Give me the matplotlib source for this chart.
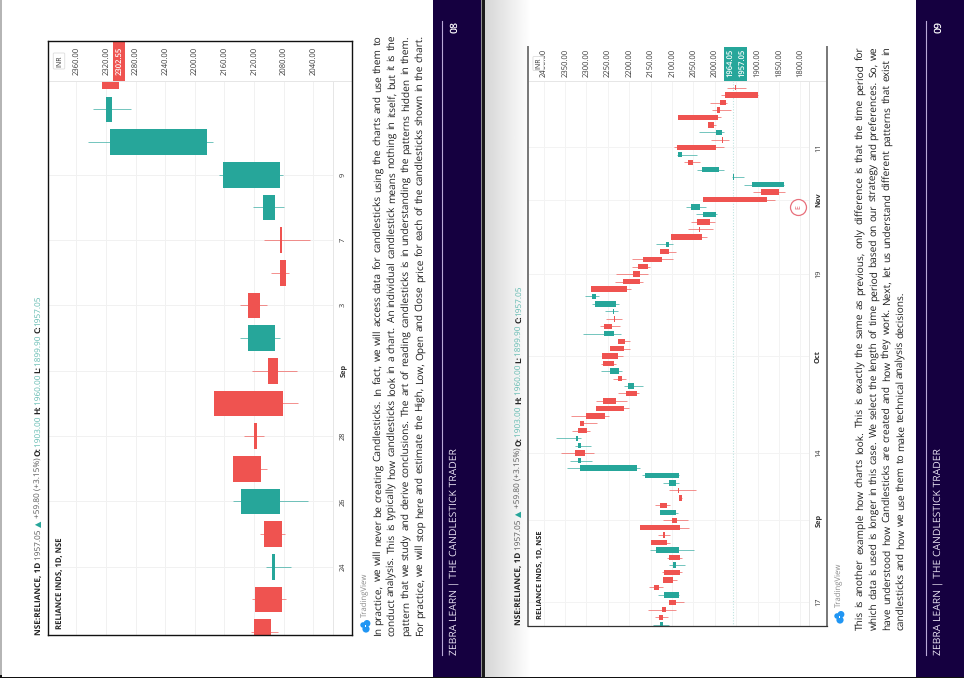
import numpy as np
import matplotlib
matplotlib.use("Agg")
import matplotlib.pyplot as plt
from matplotlib.patches import Circle, Rectangle, FancyBboxPatch
from matplotlib.transforms import blended_transform_factory

plt.rcParams["text.hinting"] = "no_hinting"

W, H = 964, 678
UP, DOWN = "#26A69A", "#EF5350"
NAVY = "#150040"
FONT = ["Open Sans", "DejaVu Sans"]

# Short-window daily candles, newest first
short_open = [2325.0, 2311.6, 2183.2, 2085.0, 2092.2, 2084.5, 2084.5, 2128.7, 2092.2, 2100.8,
              2174.2, 2120.1, 2148.5, 2085.0, 2106.6, 2091.8, 2118.3, 2120.6]
short_high = [2325.0, 2337.7, 2344.0, 2167.9, 2121.5, 2106.2, 2097.2, 2139.0, 2138.6, 2122.4,
              2174.2, 2133.6, 2148.5, 2148.5, 2112.0, 2104.4, 2122.4, 2124.2]
short_low = [2302.0, 2286.3, 2175.1, 2080.5, 2079.6, 2044.9, 2072.4, 2102.6, 2085.0, 2062.5,
             2060.7, 2106.6, 2103.0, 2046.7, 2077.8, 2070.6, 2077.3, 2088.1]
short_close = [2302.55, 2319.7, 2314.3, 2161.6, 2108.0, 2082.7, 2077.3, 2112.0, 2128.7, 2087.7,
               2081.0, 2116.1, 2110.7, 2137.7, 2082.3, 2096.2, 2082.3, 2097.2]
short_price_ticks = [2360, 2320, 2280, 2240, 2200, 2160, 2120, 2080, 2040]
short_time_rows = [3, 5, 7, 9, 11, 13, 15]
short_time_labels = ["9", "7", "3", "Sep", "28", "26", "24"]

# Long-window daily candles, newest first
long_open = [1952.7, 1976.1, 1987.8, 1994.8, 2085.2, 2015.8, 1982.3, 1982.3, 2089.1, 2076.6,
             2062.6, 1990.1, 1955.1, 1837.5, 1891.2, 2027.5, 2033.8, 1997.1, 2042.3, 2036.9,
             2102.3, 2106.2, 2128.0, 2168.5, 2180.2, 2191.1, 2215.3, 2290.0, 2278.4, 2230.8,
             2235.5, 2236.3, 2259.7, 2234.7, 2226.2, 2244.1, 2264.3, 2261.2, 2224.6, 2226.9,
             2188.8, 2207.5, 2261.2, 2277.6, 2300.2, 2315.0, 2320.4, 2319.6, 2312.6, 2325.9,
             2311.9, 2182.5, 2084.4, 2091.4, 2085.2, 2084.4, 2128.8, 2091.4, 2100.7, 2174.8,
             2120.2, 2148.3, 2084.4, 2107.0, 2091.4, 2119.4, 2121.0, 2142.0, 2084.4, 2106.2,
             2122.6, 2129.6, 2121.0]
long_high = [1970.7, 1984.7, 2011.2, 2006.5, 2085.2, 2015.8, 2037.7, 2009.6, 2096.1, 2089.1,
             2072.7, 2041.5, 1959.8, 1930.9, 1909.9, 2027.5, 2066.5, 2043.1, 2055.6, 2061.8,
             2102.3, 2137.4, 2128.0, 2193.5, 2193.5, 2230.1, 2234.0, 2290.0, 2303.3, 2286.9,
             2256.5, 2253.4, 2268.2, 2308.7, 2226.2, 2244.1, 2264.3, 2266.7, 2265.1, 2238.6,
             2212.1, 2226.2, 2277.6, 2277.6, 2336.8, 2315.0, 2333.7, 2371.1, 2326.7, 2359.4,
             2338.3, 2345.4, 2170.1, 2120.2, 2107.0, 2084.4, 2138.9, 2128.8, 2121.0, 2174.8,
             2133.5, 2148.3, 2150.6, 2110.9, 2107.8, 2123.3, 2121.0, 2154.5, 2133.5, 2106.2,
             2156.8, 2139.7, 2145.2]
long_low = [1927.8, 1899.0, 1971.4, 1961.3, 1986.2, 1997.1, 1977.7, 1966.0, 1977.7, 2040.8,
            2035.3, 1979.2, 1932.5, 1837.5, 1835.1, 1860.0, 2021.3, 1994.0, 1998.7, 2004.9,
            2018.2, 2096.9, 2091.4, 2097.6, 2150.6, 2156.1, 2168.5, 2195.8, 2269.8, 2224.6,
            2226.2, 2216.8, 2222.3, 2219.2, 2197.3, 2197.3, 2214.5, 2230.1, 2216.8, 2206.7,
            2167.0, 2176.3, 2205.1, 2201.2, 2247.2, 2276.0, 2292.4, 2311.9, 2288.5, 2282.3,
            2287.7, 2175.5, 2084.4, 2084.4, 2044.7, 2076.6, 2103.9, 2086.7, 2062.6, 2061.0,
            2105.4, 2103.9, 2047.8, 2076.6, 2070.4, 2076.6, 2089.1, 2121.8, 2084.4, 2071.1,
            2091.4, 2110.1, 2106.2]
long_close = [1951.2, 1899.0, 1973.0, 1987.0, 1993.2, 2001.8, 1997.1, 1980.0, 1997.1, 2086.0,
              2050.9, 2029.9, 1958.0, 1913.8, 1850.7, 1878.0, 2055.6, 2027.5, 2011.2, 2033.8,
              2029.1, 2114.0, 2107.0, 2124.1, 2156.1, 2175.5, 2175.5, 2205.9, 2287.7, 2280.7,
              2237.9, 2233.2, 2239.4, 2258.1, 2210.6, 2212.9, 2226.2, 2234.7, 2244.9, 2216.8,
              2202.0, 2181.0, 2230.8, 2211.4, 2256.5, 2305.6, 2298.6, 2324.3, 2319.6, 2302.5,
              2320.4, 2315.0, 2163.1, 2107.8, 2082.8, 2076.6, 2111.7, 2128.8, 2088.3, 2080.5,
              2117.1, 2110.9, 2138.1, 2081.3, 2096.9, 2081.3, 2096.9, 2131.1, 2118.7, 2091.4,
              2114.8, 2121.8, 2128.0]
long_price_ticks = [2400, 2350, 2300, 2250, 2200, 2150, 2100, 2050, 2000, 1950, 1900, 1850, 1800]
long_hidden_tick = 1950
long_time_rows = [8, 15, 25, 36, 49, 58, 69]
long_time_labels = ["11", "Nov", "19", "Oct", "14", "Sep", "17"]
long_last_price = 1957.05
long_prev_price = 1964.05
earnings_row = 16
earnings_price = 1805

left_lines = [
    "In practice, we will never be creating Candlesticks. In fact, we will access data for candlesticks using the charts and use them to",
    "conduct analysis. This is typically how candlesticks look in a chart. An individual candlestick means nothing in itself, but it is the",
    "pattern that we study and derive conclusions. The art of reading candlesticks is in understanding the patterns hidden in them.",
    "For practice, we will stop here and estimate the High, Low, Open and Close price for each of the candlesticks shown in the chart.",
]
right_lines = [
    "This is another example how charts look. This is exactly the same as previous, only difference is that the time period for",
    "which data is used is longer in this case. We select the length of time period based on our strategy and preferences. So, we",
    "have understood how Candlesticks are created and how they work. Next, let us understand different patterns that exist in",
    "candlesticks and how we use them to make technical analysis decisions.",
]
footer_title = "ZEBRA LEARN | THE CANDLESTICK TRADER"


def header_parts():
    dark, grey, teal = "#222222", "#555555", "#5DB8AE"
    return [("NSE:RELIANCE, 1D ", "bold", dark), ("1957.05 ", "normal", grey),
            ("▲ ", "normal", UP), ("+59.80 (+3.15%) ", "normal", grey),
            ("O:", "bold", dark), ("1903.00 ", "normal", teal),
            ("H:", "bold", dark), ("1960.00 ", "normal", teal),
            ("L:", "bold", dark), ("1899.90 ", "normal", teal),
            ("C:", "bold", dark), ("1957.05", "normal", teal)]


fig = plt.figure(figsize=(W / 100, H / 100), dpi=100)
fig.patch.set_facecolor("white")


def full_axes(z):
    a = fig.add_axes([0, 0, 1, 1], zorder=z)
    a.set_xlim(0, W)
    a.set_ylim(H, 0)
    a.axis("off")
    a.patch.set_alpha(0)
    return a


page = full_axes(0)
top = full_axes(5)
renderer = fig.canvas.get_renderer()


def width_of(s, **kw):
    t = top.text(0, 0, s, family=FONT, **kw)
    w = t.get_window_extent(renderer).width
    t.remove()
    return w


def settle_size(measure, target, start=7.0):
    """Font size whose measured length comes to the target; widths are not quite linear in size."""
    size = start
    for _ in range(4):
        size *= target / measure(size)
    return size


def up_text(x, y, s, **kw):
    """Text reading bottom to top, starting at pixel (x, y)."""
    return top.text(x, y, s, rotation=90, rotation_mode="anchor", ha="left",
                    va="center", family=FONT, **kw)


def fitted(x, y0, y1, s, color, weight="normal"):
    size = settle_size(lambda z: width_of(s, fontsize=z, fontweight=weight), y0 - y1)
    up_text(x, y0, s, fontsize=size, color=color, fontweight=weight)


def paragraph(lines, xs, y0, y1, size, justified, color="#1e1e1e"):
    for line, x, just in zip(lines, xs, justified):
        words = line.split(" ")
        widths = [width_of(w, fontsize=size) for w in words]
        space = width_of("a a", fontsize=size) - width_of("aa", fontsize=size)
        if just:
            space = ((y0 - y1) - sum(widths)) / (len(words) - 1)
        y = y0
        for w, wd in zip(words, widths):
            up_text(x, y, w, fontsize=size, color=color)
            y -= wd + space


def header(x, y0, y1):
    parts = [(s.replace(" ", "\u00a0"), w, c) for s, w, c in header_parts()]
    size = settle_size(lambda z: sum(width_of(s, fontsize=z, fontweight=w) for s, w, _ in parts), y0 - y1)
    y = y0
    for s, w, c in parts:
        up_text(x, y, s, fontsize=size, fontweight=w, color=c)
        y -= width_of(s, fontsize=size, fontweight=w)


def candles(ax, o, h, l, c, body):
    rows = np.arange(len(o))
    o, h, l, c = map(np.asarray, (o, h, l, c))
    colors = [UP if b >= a else DOWN for a, b in zip(o, c)]
    ax.hlines(rows, l, h, colors=colors, linewidth=0.7, alpha=0.65, zorder=2)
    ax.barh(rows, np.abs(c - o), left=np.minimum(o, c), height=body, color=colors,
            linewidth=0, zorder=2.2)


def chart(rect, xlim, ylim, ticks, rows, labels, label_frac, time_frac, scale_row, scale_price, grid,
          unlabelled=()):
    x0, y0, x1, y1 = rect
    ax = fig.add_axes([x0 / W, 1 - y1 / H, (x1 - x0) / W, (y1 - y0) / H], zorder=1)
    ax.set_xlim(*xlim)
    ax.set_ylim(*ylim)
    ax.set_xticks([])
    ax.set_yticks([])
    ax.vlines(ticks, scale_row, ylim[0], colors=grid, linewidth=0.7, zorder=0.5)
    ax.hlines(rows, xlim[0], scale_price, colors=grid, linewidth=0.7, zorder=0.5)
    ax.axhspan(ylim[1], scale_row, color="white", zorder=3, linewidth=0)
    ax.axvspan(scale_price, xlim[1], color="white", zorder=3, linewidth=0)
    ax.hlines(scale_row, xlim[0], xlim[1], colors="#e6e6e6", linewidth=0.7, zorder=3.1)
    ax.vlines(scale_price, scale_row, ylim[0], colors="#e6e6e6", linewidth=0.7, zorder=3.1)
    tr_p = blended_transform_factory(ax.transData, ax.transAxes)
    tr_t = blended_transform_factory(ax.transAxes, ax.transData)
    for p in ticks:
        if p in unlabelled:
            continue
        ax.text(p, label_frac, f"{p:.2f}", transform=tr_p, rotation=90, ha="center", va="center",
                family=FONT, fontsize=5.5, color="#333333", zorder=4)
    for r, s in zip(rows, labels):
        ax.text(time_frac, r, s, transform=tr_t, rotation=90, ha="center", va="center", family=FONT,
                fontsize=5.3, color="#333333", zorder=4,
                fontweight="bold" if s in ("Sep", "Oct", "Nov") else "normal")
    return ax, tr_p


# Page furniture
page.add_patch(Rectangle((0, 0), 2, H, color="#b5b5b5", lw=0))
page.add_patch(Rectangle((432.5, 0), 48.5, H, color=NAVY, lw=0))
page.add_patch(Rectangle((916, 0), 48, H, color=NAVY, lw=0))
page.add_patch(Rectangle((481, 0), 1, H, color="#8f8f8f", lw=0))
page.add_patch(Rectangle((482, 0), 3, H, color="#1a1a1a", lw=0))
shade = np.linspace(0.84, 1.0, 64)[None, :]
page.imshow(shade, extent=(485, 531, H, 0), cmap="gray", vmin=0, vmax=1, aspect="auto", zorder=0.5)
page.set_xlim(0, W)
page.set_ylim(H, 0)
page.add_patch(Rectangle((0, 677), W, 1, color="#111111", lw=0, zorder=3))
page.add_patch(Rectangle((0, 675), 2, 3, color="#111111", lw=0, zorder=3))

for x in (442, 926):
    top.plot([x, x], [21, 655], color="#b9a9d8", lw=0.8)
for x, num in ((455, "08"), (938.5, "09")):
    fitted(x, 33, 21, num, "white", "semibold")
fitted(454.5, 655, 450, footer_title, "#e8e2f2")
fitted(939, 655, 450, footer_title, "#e8e2f2")

# First chart
ax1, tr1 = chart((48, 41, 352, 635), (2398.5, 1987.7), (17.09, -1.092), short_price_ticks,
                 short_time_rows, short_time_labels, 0.966, 0.97, 0.13, 2012.9, "#f1f1f1")
candles(ax1, short_open, short_high, short_low, short_close, 0.785)
for s in ax1.spines.values():
    s.set_color("#111111")
    s.set_linewidth(1.0)
    s.set_zorder(6)
ax1.add_patch(Rectangle((short_close[0] + 7.8, 0.933), -15.6, 0.067, transform=tr1, color=DOWN, lw=0, zorder=3.5))
ax1.text(short_close[0], 0.966, f"{short_close[0]:.2f}", transform=tr1, rotation=90, ha="center", va="center",
         family=FONT, fontsize=5.5, color="white", fontweight="semibold", zorder=4)

# Second chart
ax2, tr2 = chart((528, 47, 827, 625.7), (2436.5, 1737.7), (72.14, -5.45), long_price_ticks,
                 long_time_rows, long_time_labels, 0.972, 0.97, -0.894, 1780.6, "#f3f3f3",
                 unlabelled=(long_hidden_tick,))
candles(ax2, long_open, long_high, long_low, long_close, 0.72)
ax2.vlines(long_last_price, -0.894, 72.14, colors="#bfe3df", linewidth=0.8, linestyles=(0, (1, 1.5)), zorder=1)
ax2.add_patch(Rectangle((long_prev_price + 14, 0.941), -54, 0.059, transform=tr2, color=UP, lw=0, zorder=3.5))
# The last-price tag is pushed clear of the previous-close tag on the scale
for price, shift in ((long_prev_price, 0), (long_last_price, -21)):
    ax2.text(price + shift, 0.972, f"{price:.2f}", transform=tr2, rotation=90, ha="center", va="center",
             family=FONT, fontsize=5.5, color="white", fontweight="semibold", zorder=4)
for side, s in ax2.spines.items():
    s.set_color("#777777" if side in ("left", "right") else "#333333")
    s.set_linewidth(1.4 if side in ("left", "right") else 0.9)
    s.set_zorder(6)
ax2.spines["top"].set_visible(False)
ax2.plot([earnings_price], [earnings_row], "o", ms=11.5, mfc="white", mec="#e8707c", mew=0.9, zorder=2.5)
ax2.text(earnings_price, earnings_row, "E", rotation=90, ha="center", va="center", family=FONT,
         fontsize=5, color="#e0505f", zorder=2.6)

# Overlay labels
for x, y, w, h in ((59, 61, 11.5, 16), (538.3, 63.5, 10.7, 14)):
    top.add_patch(FancyBboxPatch((x - w / 2 + 1, y - h / 2 + 1), w - 2, h - 2,
                                 boxstyle="round,pad=1", fc="white", ec="#dddddd", lw=0.6))
    top.text(x, y, "INR", rotation=90, ha="center", va="center", family=FONT, fontsize=5, color="#333333")
fitted(59.5, 629, 537, "RELIANCE INDS, 1D, NSE", "#222222", "bold")
fitted(539, 619, 530, "RELIANCE INDS, 1D, NSE", "#222222", "bold")
header(38.5, 635, 292)
header(519, 625, 288)

# TradingView marks
for lx, ly, tx, t0, t1 in ((365.5, 626, 365, 617, 572), (839.5, 617, 839, 607, 563)):
    for dx, dy, r in ((0.5, 3, 3.6), (1.5, -2.6, 3.4), (-2.4, -1, 2.8)):
        top.add_patch(Circle((lx + dx, ly + dy), r, fc="#2196F3", ec="none"))
    top.add_patch(Rectangle((lx - 0.8, ly - 0.8), 1.6, 1.6, fc="white", ec="none"))
    fitted(tx, t0, t1, "TradingView", "#8a8a8a")

# Body copy
paragraph(left_lines, (378, 392, 406, 420), 636.5, 35, 7.3, (True, True, True, False))
paragraph(right_lines, (860, 873.7, 887, 901), 629.5, 46.7, 7.3, (True, True, True, False))

fig.savefig("out.png", dpi=100)
